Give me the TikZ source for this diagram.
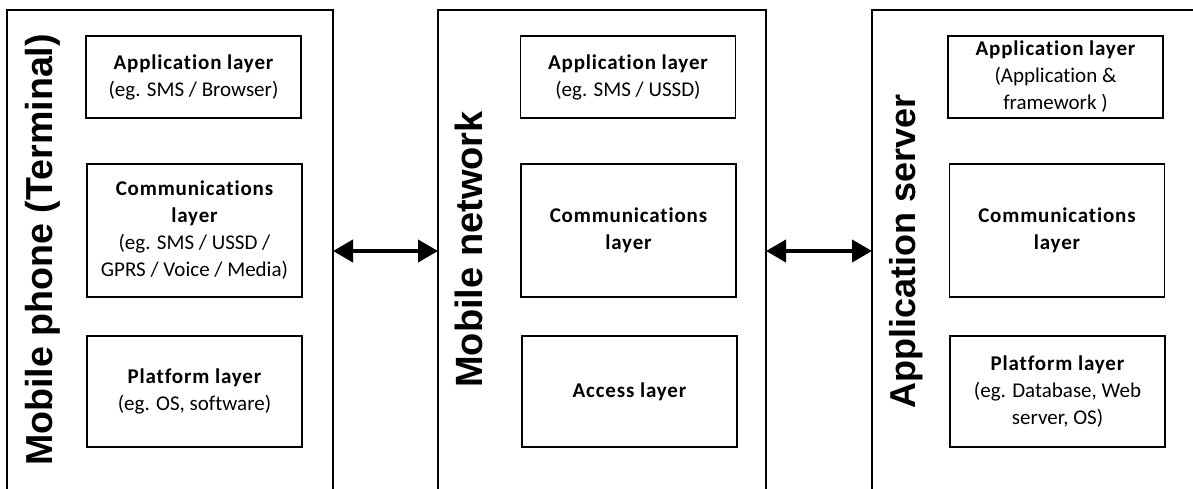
\documentclass[tikz,border=0pt]{standalone}
\usepackage{fontspec}
\setmainfont{Carlito}[Ligatures=NoCommon, BoldFeatures={LetterSpace=4}]
\newfontfamily\titlefont{Liberation Sans}
\usetikzlibrary{arrows.meta}

\begin{document}
\begin{tikzpicture}[x=1pt,y=-1pt,
  tier/.style={draw=black, line width=1.5pt, outer sep=0pt, inner sep=0pt,
    anchor=north west, minimum height=482pt},
  layer/.style={draw=black, line width=1.5pt, outer sep=0pt, inner sep=0pt,
    minimum width=215pt, align=center, font=\fontsize{21}{27}\selectfont},
  tiertitle/.style={rotate=90, anchor=base, inner sep=0pt,
    font=\titlefont\bfseries\fontsize{38}{40}\selectfont},
  link/.style={line width=4pt,
    {Triangle[length=20pt,width=22pt]}-{Triangle[length=20pt,width=22pt]}}]
\clip (0,0) rectangle (1193,489);

% the three tiers, open at the bottom of the sheet
\node[tier, minimum width=326pt] (phone) at (7,10) {};
\node[tier, minimum width=328pt] (network) at (438,10) {};
\node[tier, minimum width=400pt] (server) at (872,10) {};

% tier titles
\node[tiertitle, font=\titlefont\bfseries\fontsize{37.6}{40}\selectfont]
  (phonetitle) at (52,250) {Mobile phone (Terminal)};
\node[tiertitle] (networktitle) at (482,249.5) {Mobile network};
\node[tiertitle, font=\titlefont\bfseries\fontsize{36}{40}\selectfont]
  (servertitle) at (915,251.5) {Application server};

% terminal layers
\node[layer, minimum height=82pt] (papp) at (193.5,77)
  {{\bfseries Application layer}\\(eg. SMS / Browser)};
\node[layer, minimum height=133pt] (pcomm) at (194.5,230.5)
  {{\bfseries Communications}\\{\bfseries layer}\\(eg. SMS / USSD /\\GPRS / Voice / Media)};
\node[layer, minimum height=111pt] (pplat) at (194.5,391.5)
  {{\bfseries Platform layer}\\(eg. OS, software)};

% network layers
\node[layer, minimum height=82pt] (napp) at (628,77)
  {{\bfseries Application layer}\\(eg. SMS / USSD)};
\node[layer, minimum height=133pt] (ncomm) at (628.5,230.5)
  {{\bfseries Communications}\\{\bfseries layer}};
\node[layer, minimum height=111pt] (naccess) at (629.5,391.5)
  {{\bfseries Access layer}};

% server layers
\node[layer, minimum height=82pt] (sapp) at (1055.5,77)
  {{\bfseries Application layer}\\(Application \&\\framework )};
\node[layer, minimum height=133pt] (scomm) at (1057,230.5)
  {{\bfseries Communications}\\{\bfseries layer}};
\node[layer, minimum height=111pt] (splat) at (1057.5,391.5)
  {{\bfseries Platform layer}\\(eg. Database, Web\\server, OS)};

% links between the tiers
\draw[link] (phone.east) -- (network.west);
\draw[link] (network.east) -- (server.west);
\end{tikzpicture}
\end{document}
